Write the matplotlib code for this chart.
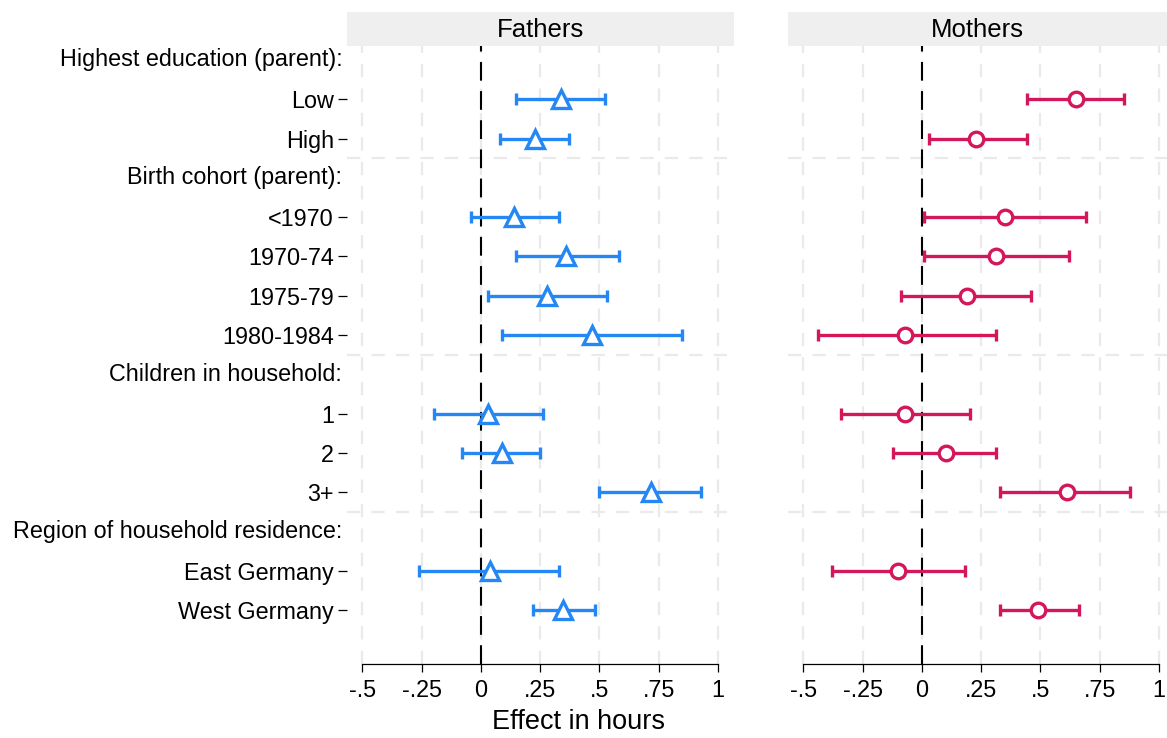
import numpy as np
import matplotlib
matplotlib.use('Agg')
import matplotlib.pyplot as plt
from matplotlib.transforms import blended_transform_factory

plt.rcParams['font.family'] = ['Liberation Sans', 'DejaVu Sans']

# ---- data -------------------------------------------------------------
rows = ['Highest education (parent):', 'Low', 'High',
        'Birth cohort (parent):', '<1970', '1970-74', '1975-79', '1980-1984',
        'Children in household:', '1', '2', '3+',
        'Region of household residence:', 'East Germany', 'West Germany']
is_header = [True, False, False,
             True, False, False, False, False,
             True, False, False, False,
             True, False, False]

# estimates for non-header rows, in order
fathers_est = [0.339, 0.229, 0.138, 0.359, 0.278, 0.468, 0.030, 0.089, 0.719, 0.039, 0.347]
fathers_lo = [0.149, 0.079, -0.041, 0.149, 0.028, 0.089, -0.200, -0.080, 0.498, -0.262, 0.219]
fathers_hi = [0.522, 0.371, 0.331, 0.582, 0.530, 0.850, 0.262, 0.250, 0.930, 0.329, 0.481]

mothers_est = [0.648, 0.229, 0.352, 0.312, 0.191, -0.070, -0.070, 0.100, 0.610, -0.100, 0.491]
mothers_lo = [0.442, 0.031, 0.010, 0.010, -0.090, -0.439, -0.340, -0.120, 0.329, -0.380, 0.329]
mothers_hi = [0.852, 0.442, 0.692, 0.620, 0.461, 0.312, 0.201, 0.311, 0.880, 0.183, 0.662]

xticks = [-0.5, -0.25, 0, 0.25, 0.5, 0.75, 1]
xticklabels = ['-.5', '-.25', '0', '.25', '.5', '.75', '1']
separators = [2.5, 7.5, 11.5]

BLUE = '#2487F4'
RED = '#D4175B'
GRID = '#EAEAEA'
FS = 16.8

# ---- layout -----------------------------------------------------------
W, H = 1167, 738
fig = plt.figure(figsize=(W / 100, H / 100), dpi=100)


def px_axes(x0, x1, y0, y1):
    return fig.add_axes([x0 / W, 1 - y1 / H, (x1 - x0) / W, (y1 - y0) / H])


row_pos = np.arange(len(rows))
cat_pos = row_pos[~np.array(is_header)]
head_pos = row_pos[np.array(is_header)]

panels = [
    ('Fathers', 347, 734, (-0.565, 1.068), fathers_est, fathers_lo, fathers_hi, BLUE, '^', 12.5),
    ('Mothers', 788, 1167, (-0.565, 1.034), mothers_est, mothers_lo, mothers_hi, RED, 'o', 10.5),
]

for i, (title, x0, x1, xlim, est, lo, hi, col, mk, ms) in enumerate(panels):
    ax = px_axes(x0, x1, 46, 664)
    ax.set_xlim(*xlim)
    ax.set_ylim(15.37, -0.356)

    for t in xticks:
        ax.axvline(t, color=GRID, lw=1.6, ls=(0, (6, 5)), zorder=0)
    for s in separators:
        ax.axhline(s, color=GRID, lw=1.6, ls=(0, (6, 5)), zorder=0)
    ax.axvline(0, color='black', lw=1.5, ls=(0, (9, 5)), zorder=1)

    est = np.array(est)
    lo = np.array(lo)
    hi = np.array(hi)
    ax.errorbar(est, cat_pos, xerr=[est - lo, hi - est], fmt='none',
                ecolor=col, elinewidth=2.4, capsize=4.5, capthick=2.4, zorder=2)
    ax.plot(est, cat_pos, ls='none', marker=mk, ms=ms, mfc='white',
            mec=col, mew=2.4, zorder=3)

    for sp in ['top', 'right', 'left']:
        ax.spines[sp].set_visible(False)
    ax.spines['bottom'].set_linewidth(0.9)
    ax.spines['bottom'].set_bounds(xticks[0], xticks[-1])
    ax.set_xticks(xticks)
    ax.set_xticklabels(xticklabels, fontsize=FS)
    ax.tick_params(axis='x', length=6, width=0.9, pad=5)

    if i == 0:
        ax.set_yticks(cat_pos)
        ax.set_yticklabels([rows[j] for j in cat_pos], fontsize=FS)
        ax.tick_params(axis='y', length=6.5, width=0.9, pad=3)
        tr = blended_transform_factory(ax.transAxes, ax.transData)
        for j in head_pos:
            ax.annotate(rows[j], xy=(0, j), xycoords=tr, xytext=(-3.5, 0),
                        textcoords='offset points', ha='right', va='center',
                        fontsize=FS)
    else:
        ax.set_yticks([])

    # header strip
    sax = px_axes(x0, x1, 12, 46)
    sax.set_facecolor('#EFEFEF')
    sax.set_xticks([])
    sax.set_yticks([])
    for sp in sax.spines.values():
        sp.set_visible(False)
    sax.text(0.5, 0.48, title, ha='center', va='center', fontsize=18.5,
             transform=sax.transAxes)

fig.text(578 / W, 1 - 722 / H, 'Effect in hours', ha='center', va='center', fontsize=19.5)

fig.savefig('out.png', dpi=100, facecolor='white')
